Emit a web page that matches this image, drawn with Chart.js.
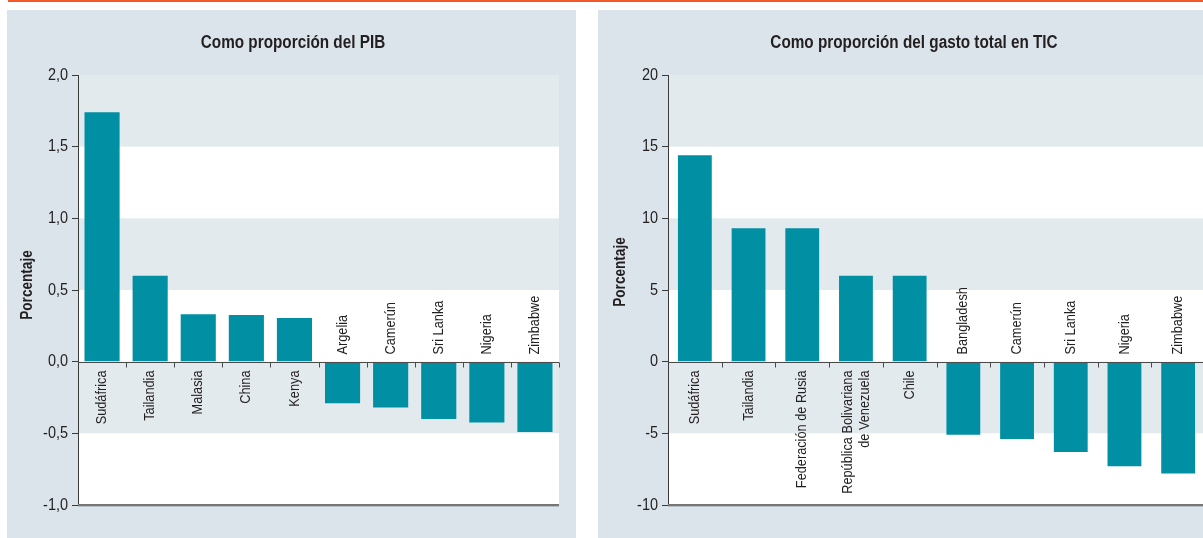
<!DOCTYPE html>
<html lang="es">
<head>
<meta charset="utf-8">
<title>Proporción del PIB y del gasto total en TIC</title>
<script src="https://cdn.jsdelivr.net/npm/chart.js@4.4.1/dist/chart.umd.min.js"></script>
<style>
  html, body { margin: 0; padding: 0; background: #ffffff; width: 1203px; height: 538px; overflow: hidden; position: relative; }
  .rule { position: absolute; left: 8px; top: 0; width: 1195px; height: 2px; background: #f4592b; }
  .panel { position: absolute; top: 10px; height: 528px; background: #dae4ea; }
  #panelA { left: 7px; width: 569px; }
  #panelB { left: 598px; width: 632px; }
  .panel canvas { display: block; }
</style>
</head>
<body>
<div class="rule"></div>
<div class="panel" id="panelA"><canvas id="chartA" width="569" height="528"></canvas></div>
<div class="panel" id="panelB"><canvas id="chartB" width="632" height="528"></canvas></div>
<script>
// Panel 1: como proporción del PIB (porcentaje)
const pibTitle = 'Como proporción del PIB';
const pibCategories = ['Sudáfrica', 'Tailandia', 'Malasia', 'China', 'Kenya', 'Argelia', 'Camerún', 'Sri Lanka', 'Nigeria', 'Zimbabwe'];
const pibValues = [1.74, 0.60, 0.33, 0.325, 0.305, -0.29, -0.32, -0.40, -0.425, -0.49];
const pibTicks = [2.0, 1.5, 1.0, 0.5, 0.0, -0.5, -1.0];

// Panel 2: como proporción del gasto total en TIC (porcentaje)
const ticTitle = 'Como proporción del gasto total en TIC';
const ticCategories = ['Sudáfrica', 'Tailandia', 'Federación de Rusia', ['República Bolivariana', 'de Venezuela'], 'Chile', 'Bangladesh', 'Camerún', 'Sri Lanka', 'Nigeria', 'Zimbabwe'];
const ticValues = [14.4, 9.3, 9.3, 6.0, 6.0, -5.1, -5.4, -6.3, -7.3, -7.8];
const ticTicks = [20, 15, 10, 5, 0, -5, -10];

const axisTitle = 'Porcentaje';

const FONT = "'Liberation Sans', Arial, sans-serif";
const NARROW = 0.85;          // horizontal squeeze for a condensed look
const BAR = '#008fa3';
const BAND = '#e3eaee';
const INK = '#231f20';

// Draws condensed text at (x, y), optionally rotated
function drawText(ctx, s, x, y, o) {
  ctx.save();
  ctx.translate(x, y);
  if (o.rot) ctx.rotate(o.rot);
  ctx.scale(NARROW, 1);
  ctx.font = `${o.bold ? 'bold ' : ''}${o.size}px ${FONT}`;
  ctx.fillStyle = INK;
  ctx.textAlign = o.align || 'left';
  ctx.textBaseline = o.baseline || 'middle';
  ctx.fillText(s, 0, 0);
  ctx.restore();
}

// Alternating horizontal bands behind the bars, plus the plot background
const bandPlugin = {
  id: 'bands',
  beforeDraw(chart, args, opts) {
    const { ctx, chartArea: a, scales: { y } } = chart;
    const right = opts.extendRight ? chart.width : a.right;
    ctx.save();
    ctx.fillStyle = '#ffffff';
    ctx.fillRect(a.left, a.top, right - a.left, a.bottom - a.top);
    const ticks = opts.ticks;
    ctx.fillStyle = BAND;
    for (let i = 0; i < ticks.length - 1; i++) {
      if (i % 2 === 0) {
        const t = y.getPixelForValue(ticks[i]);
        const b = y.getPixelForValue(ticks[i + 1]);
        ctx.fillRect(a.left, t, right - a.left, b - t);
      }
    }
    ctx.restore();
  }
};

// Zero line with category ticks, bottom rule, rotated country labels and all panel text
const baselinePlugin = {
  id: 'baseline',
  afterDatasetsDraw(chart, args, opts) {
    const { ctx, chartArea: a, scales: { x, y } } = chart;
    const right = opts.extendRight ? chart.width : a.right;
    const y0 = Math.round(y.getPixelForValue(0)) + 0.5;
    ctx.save();
    // bottom rule with a soft shadow
    ctx.fillStyle = '#767676';
    ctx.fillRect(a.left, a.bottom - 1, right - a.left, 2);
    ctx.fillStyle = '#b7bfc4';
    ctx.fillRect(a.left, a.bottom + 1, right - a.left, 1);
    // zero line
    ctx.strokeStyle = '#4a4a4a';
    ctx.lineWidth = 1;
    ctx.beginPath();
    ctx.moveTo(a.left, y0);
    ctx.lineTo(right, y0);
    const n = chart.data.labels.length;
    const step = (x.getPixelForValue(1) - x.getPixelForValue(0));
    for (let i = 1; i <= n; i++) {
      const xb = Math.round(x.getPixelForValue(i - 1) + step / 2) + 0.5;
      ctx.moveTo(xb, y0);
      ctx.lineTo(xb, y0 + 5);
    }
    ctx.stroke();
    ctx.restore();

    // category labels, written bottom-to-top beside the zero line
    const values = chart.data.datasets[0].data;
    chart.data.labels.forEach((lab, i) => {
      const cx = x.getPixelForValue(i);
      const lines = Array.isArray(lab) ? lab : [lab];
      const lh = 17;
      const pos = values[i] >= 0;
      lines.forEach((line, j) => {
        const off = (j - (lines.length - 1) / 2) * lh;
        drawText(ctx, line, cx + off, pos ? y0 + 8 : y0 - 8, {
          size: 15, rot: -Math.PI / 2, align: pos ? 'right' : 'left'
        });
      });
    });

    // y tick labels
    opts.ticks.forEach(v => {
      drawText(ctx, opts.format(v), a.left - 10, y.getPixelForValue(v), { size: 17, align: 'right' });
    });

    // axis title and panel title
    drawText(ctx, axisTitle, opts.axisTitleX, opts.axisTitleY, { size: 16, bold: true, rot: -Math.PI / 2, align: 'center' });
    drawText(ctx, opts.title, opts.titleX, 33, { size: 18, bold: true, align: 'center' });
  }
};

function makeChart(id, title, labels, values, ticks, opt) {
  const min = ticks[ticks.length - 1];
  const max = ticks[0];
  return new Chart(document.getElementById(id), {
    type: 'bar',
    data: {
      labels: labels,
      datasets: [{
        data: values,
        backgroundColor: BAR,
        borderWidth: 0,
        barPercentage: opt.barPct,
        categoryPercentage: 1.0
      }]
    },
    options: {
      responsive: false,
      animation: false,
      events: [],
      layout: { padding: { left: 0, right: opt.padRight, top: 65, bottom: 33 } },
      plugins: {
        legend: { display: false },
        tooltip: { enabled: false },
        title: { display: false },
        bands: { ticks: ticks, extendRight: opt.extendRight },
        baseline: {
          extendRight: opt.extendRight,
          ticks: ticks,
          format: opt.format,
          title: title,
          titleX: opt.titleX,
          axisTitleX: opt.axisTitleX,
          axisTitleY: opt.axisTitleY
        }
      },
      scales: {
        x: {
          display: false,
          offset: true
        },
        y: {
          min: min,
          max: max,
          afterFit(scale) { scale.width = opt.axisWidth; },
          afterBuildTicks(scale) { scale.ticks = ticks.slice().reverse().map(v => ({ value: v })); },
          border: { display: true, color: '#3a3a3a', width: 1 },
          grid: { display: true, drawOnChartArea: false, drawTicks: true, tickLength: 6, color: '#3a3a3a' },
          ticks: { display: false },
          title: { display: false }
        }
      }
    },
    plugins: [bandPlugin, baselinePlugin]
  });
}

makeChart('chartA', pibTitle, pibCategories, pibValues, pibTicks, {
  barPct: 0.73,
  padRight: 17,
  axisWidth: 71,
  extendRight: false,
  titleX: 286,
  axisTitleX: 21,
  axisTitleY: 275,
  format: v => v.toFixed(1).replace('.', ',')
});

makeChart('chartB', ticTitle, ticCategories, ticValues, ticTicks, {
  barPct: 0.63,
  padRight: 25,
  axisWidth: 70,
  extendRight: true,
  titleX: 316,
  axisTitleX: 23,
  axisTitleY: 262,
  format: v => String(v)
});
</script>
</body>
</html>
